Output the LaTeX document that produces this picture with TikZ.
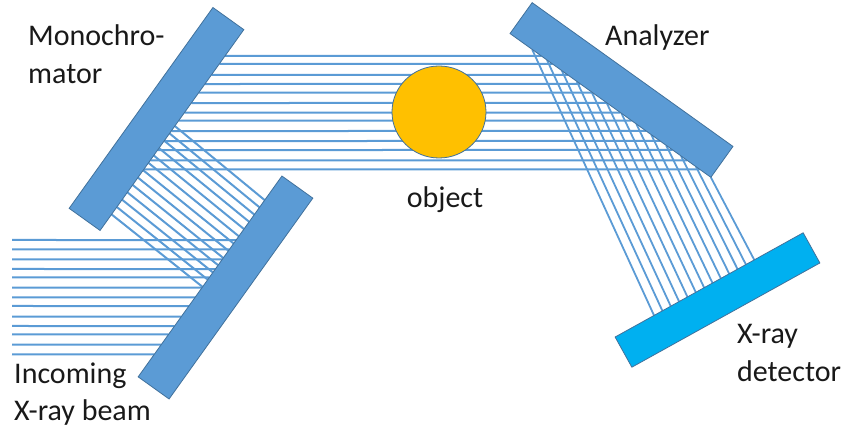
\documentclass[tikz,border=0pt]{standalone}
\usepackage{fontspec}
\setmainfont{Carlito}
\definecolor{CrystalBlue}{RGB}{91, 155, 213}
\definecolor{CrystalEdge}{RGB}{65, 113, 156}
\definecolor{DetectorBlue}{RGB}{0, 176, 240}
\definecolor{ObjectGold}{RGB}{255, 192, 0}
\usetikzlibrary{shapes.geometric, positioning, calc, backgrounds}
\tikzset{
    crystal/.style={draw=CrystalEdge, line width=0.8pt, fill=CrystalBlue, inner sep=0pt, outer sep=0pt, minimum width=247pt, minimum height=38pt},
    beam/.style={CrystalBlue, line width=2pt},
    tag/.style={font=\fontsize{30}{37.5}\selectfont, align=left, anchor=west, inner sep=0pt, text=black!90}
}

\begin{document}
\begin{tikzpicture}[x=1pt, y=-1pt]
    \useasboundingbox (0,0) rectangle (847,430);

    \node[crystal, rotate=54.4] (mono) at (156.5,119) {};
    \node[crystal, rotate=54.4] (second) at (225.5,287.5) {};
    \node[crystal, rotate=-35.6] (analyzer) at (621.5,90) {};
    \node[crystal, rotate=29, fill=DetectorBlue, minimum width=215pt, minimum height=34.5pt] (detector) at (717.5,300) {};
    \node[draw=CrystalEdge, line width=0.8pt, fill=ObjectGold, ellipse, inner sep=0pt, minimum width=94pt, minimum height=92pt] (object) at (439,112) {};

    \node[tag] (monolabel) at (28,54) {Monochro-\\mator};
    \node[tag] (analyzerlabel) at (605,38) {Analyzer};
    \node[tag, anchor=center] (objectlabel) at (445,200) {object};
    \node[tag] (detectorlabel) at (737,353) {X-ray\\detector};
    \node[tag] (incominglabel) at (14,394) {Incoming\\X-ray beam};

    \begin{scope}[on background layer]
        \foreach \y in {240,249.3,259.3,269,277.3,287.7,297.3,306,316.7,326,334.3,344.7,354.3}
            \draw[beam] (12,\y) -- (intersection cs: first line={(0,\y)--(847,\y)}, second line={(second.north west)--(second.north east)});
        \foreach \y in {56,64,75,84,92.7,103,112.7,120.7,131,141,150,160.3,169.3}
            \draw[beam] (intersection cs: first line={(0,\y)--(847,\y)}, second line={(mono.south west)--(mono.south east)}) -- (intersection cs: first line={(0,\y)--(847,\y)}, second line={(analyzer.south west)--(analyzer.south east)});
        \foreach \i in {0,...,12} {
            \pgfmathsetmacro{\ta}{0.08+\i*0.44/12}
            \pgfmathsetmacro{\tb}{0.448+\i*0.432/12}
            \draw[beam] ($(mono.south west)!\ta!(mono.south east)$) -- ($(second.north west)!\tb!(second.north east)$);
        }
        \foreach \i in {0,...,12} {
            \pgfmathsetmacro{\ta}{0.11+\i*0.89/12}
            \pgfmathsetmacro{\tb}{0.207+\i*0.533/12}
            \draw[beam, line width=1.8pt] ($(analyzer.south west)!\ta!(analyzer.south east)$) -- ($(detector.north west)!\tb!(detector.north east)$);
        }
    \end{scope}
\end{tikzpicture}
\end{document}
